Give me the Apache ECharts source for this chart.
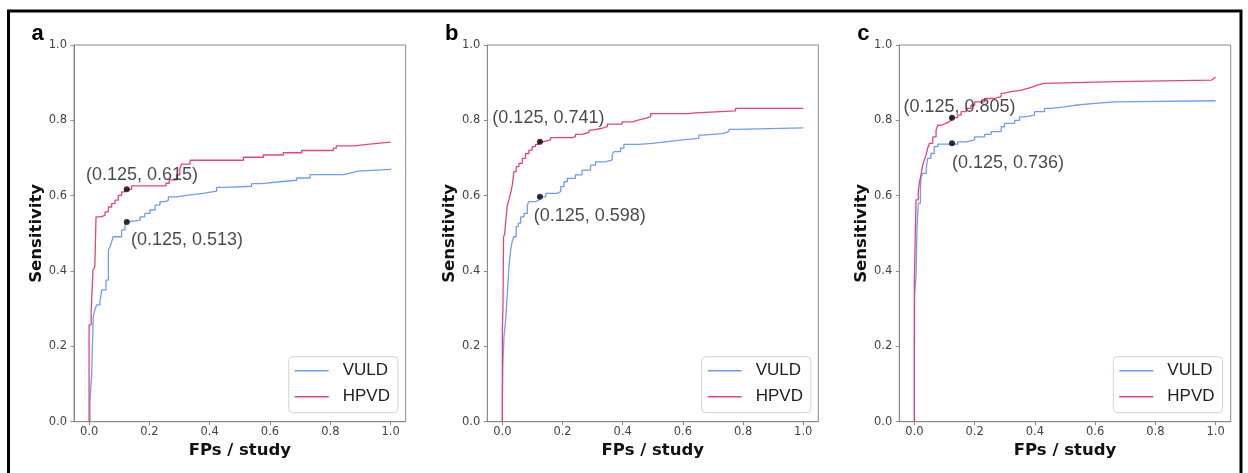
<!DOCTYPE html>
<html><head><meta charset="utf-8">
<script src="https://cdn.jsdelivr.net/npm/echarts@6/dist/echarts.min.js"></script>
<style>html,body{margin:0;padding:0;background:#fff}#c{width:1248px;height:473px}</style>
</head><body><div id="c"></div>
<script>
// ---------- data ----------
const xTicks = [0, 0.2, 0.4, 0.6, 0.8, 1.0];
const yTicks = [0, 0.2, 0.4, 0.6, 0.8, 1.0];
const seriesNames = ['VULD', 'HPVD'];
const panelLetters = ['a', 'b', 'c'];

// panel a
const vuldA = [[0.003,0],[0.003,0.058],[0.0085,0.124],[0.011,0.2],[0.014,0.279],[0.019,0.297],[0.025,0.31],[0.036,0.319],[0.042,0.35],[0.056,0.376],[0.064,0.456],[0.07,0.465],[0.075,0.478],[0.08,0.491],[0.108,0.509],[0.119,0.522],[0.125,0.531],[0.136,0.535],[0.169,0.544],[0.185,0.553],[0.202,0.562],[0.219,0.575],[0.235,0.584],[0.252,0.588],[0.263,0.597],[0.29,0.602],[0.335,0.607],[0.384,0.612],[0.423,0.622],[0.456,0.625],[0.539,0.632],[0.572,0.637],[0.633,0.641],[0.688,0.647],[0.733,0.656],[0.843,0.66],[0.865,0.665],[0.893,0.67],[1.0,0.673]];
const hpvdA = [[0,0],[0,0.257],[0.007,0.292],[0.010,0.35],[0.013,0.403],[0.019,0.41],[0.021,0.474],[0.023,0.544],[0.038,0.548],[0.053,0.557],[0.064,0.57],[0.075,0.579],[0.086,0.588],[0.097,0.601],[0.108,0.61],[0.119,0.617],[0.141,0.626],[0.255,0.633],[0.266,0.642],[0.29,0.655],[0.301,0.672],[0.307,0.684],[0.335,0.694],[0.512,0.702],[0.578,0.708],[0.644,0.714],[0.705,0.72],[0.81,0.726],[0.82,0.732],[0.88,0.737],[0.93,0.742],[1.0,0.742]];
const pointsA = [[0.125,0.617],[0.125,0.53]];
const pointTextA = ['(0.125, 0.615)', '(0.125, 0.513)'];

// panel b
const vuldB = [[0,0],[0,0.058],[0.002,0.156],[0.0054,0.226],[0.011,0.27],[0.0165,0.34],[0.022,0.411],[0.0275,0.456],[0.033,0.48],[0.0386,0.491],[0.046,0.518],[0.053,0.527],[0.061,0.544],[0.072,0.553],[0.083,0.575],[0.088,0.584],[0.11,0.589],[0.122,0.597],[0.144,0.606],[0.183,0.611],[0.194,0.624],[0.205,0.637],[0.216,0.646],[0.243,0.655],[0.265,0.668],[0.293,0.681],[0.31,0.69],[0.343,0.695],[0.365,0.708],[0.371,0.717],[0.393,0.726],[0.404,0.736],[0.454,0.739],[0.498,0.743],[0.542,0.748],[0.598,0.752],[0.653,0.761],[0.664,0.765],[0.731,0.77],[0.753,0.776],[0.775,0.78],[1.0,0.78]];
const hpvdB = [[0,0],[0,0.25],[0.002,0.3],[0.004,0.49],[0.008,0.5],[0.011,0.53],[0.0165,0.575],[0.022,0.59],[0.0275,0.607],[0.033,0.628],[0.0386,0.664],[0.046,0.677],[0.055,0.686],[0.066,0.699],[0.077,0.712],[0.088,0.721],[0.099,0.73],[0.11,0.736],[0.122,0.743],[0.135,0.748],[0.16,0.754],[0.232,0.757],[0.243,0.763],[0.265,0.768],[0.288,0.774],[0.299,0.779],[0.332,0.783],[0.349,0.79],[0.398,0.796],[0.432,0.801],[0.454,0.805],[0.476,0.81],[0.493,0.818],[0.615,0.82],[0.642,0.825],[0.775,0.832],[1.0,0.832]];
const pointsB = [[0.125,0.743],[0.125,0.597]];
const pointTextB = ['(0.125, 0.741)', '(0.125, 0.598)'];

// panel c
const vuldC = [[0,0],[0,0.2],[0.001,0.34],[0.0055,0.385],[0.009,0.52],[0.013,0.58],[0.02,0.615],[0.022,0.65],[0.0277,0.659],[0.039,0.672],[0.044,0.699],[0.055,0.712],[0.066,0.73],[0.078,0.737],[0.144,0.743],[0.172,0.748],[0.2,0.756],[0.233,0.763],[0.255,0.77],[0.288,0.783],[0.299,0.792],[0.333,0.8],[0.349,0.809],[0.366,0.814],[0.399,0.823],[0.432,0.832],[0.455,0.836],[0.499,0.84],[0.532,0.845],[0.599,0.849],[0.665,0.852],[1.0,0.852]];
const hpvdC = [[0,0],[0,0.376],[0.0055,0.589],[0.013,0.611],[0.0166,0.633],[0.022,0.655],[0.0277,0.681],[0.033,0.695],[0.039,0.708],[0.044,0.726],[0.05,0.739],[0.061,0.756],[0.072,0.774],[0.078,0.787],[0.089,0.792],[0.105,0.796],[0.114,0.8],[0.122,0.807],[0.144,0.814],[0.155,0.823],[0.172,0.832],[0.188,0.84],[0.2,0.849],[0.233,0.858],[0.266,0.863],[0.288,0.872],[0.299,0.876],[0.321,0.88],[0.355,0.885],[0.377,0.889],[0.393,0.894],[0.41,0.898],[0.432,0.903],[0.67,0.907],[0.987,0.912],[0.995,0.914],[1.0,0.914]];
const pointsC = [[0.125,0.807],[0.125,0.739]];
const pointTextC = ['(0.125, 0.805)', '(0.125, 0.736)'];

// ---------- layout / style ----------
const BLUE = '#6f9cf8', PINK = '#e7417f';
const panels = [
  {grid:{left:74, top:45, width:331.7, height:376.7}, legendLeft:288.7, letterX:31.5,
   vuld:vuldA, hpvd:hpvdA, pts:pointsA, txt:pointTextA, offs:[[-40.8,-14.3],[4.2,18]]},
  {grid:{left:487.3, top:45, width:331, height:376.7}, legendLeft:701.7, letterX:445,
   vuld:vuldB, hpvd:hpvdB, pts:pointsB, txt:pointTextB, offs:[[-47.6,-23.5],[-6.3,19.2]]},
  {grid:{left:899.3, top:45, width:331.4, height:376.7}, legendLeft:1113.3, letterX:857.3,
   vuld:vuldC, hpvd:hpvdC, pts:pointsC, txt:pointTextC, offs:[[-48.6,-11],[0,20]]}
];
const AX = '#8a8a8a';
const tickFont = {fontFamily:'DejaVu Sans', fontSize:11.5, color:'#444'};
const titleFont = {fontFamily:'DejaVu Sans', fontSize:16.5, fontWeight:'bold', color:'#111'};

const option = {animation:false, backgroundColor:'#fff', grid:[], xAxis:[], yAxis:[], series:[], legend:[], graphic:[]};
panels.forEach((p, i) => {
  option.grid.push(Object.assign({show:true, borderColor:AX, borderWidth:1, backgroundColor:'transparent'}, p.grid));
  option.xAxis.push({type:'value', gridIndex:i, min:-0.05, max:1.05,
    name:'FPs / study', nameLocation:'middle', nameGap:20, nameTextStyle:titleFont,
    axisLine:{show:true, onZero:false, lineStyle:{color:AX, width:1}},
    axisTick:{show:true, length:3.5, lineStyle:{color:AX}, customValues:xTicks},
    axisLabel:Object.assign({margin:4, customValues:xTicks, formatter:v => v.toFixed(1)}, tickFont),
    splitLine:{show:false}});
  option.yAxis.push({type:'value', gridIndex:i, min:0, max:1, interval:0.2,
    name:'Sensitivity', nameLocation:'middle', nameGap:29, nameTextStyle:titleFont,
    axisLine:{show:true, onZero:false, lineStyle:{color:AX, width:1}},
    axisTick:{show:true, length:3.5, lineStyle:{color:AX}},
    axisLabel:Object.assign({margin:7, formatter:v => v.toFixed(1)}, tickFont),
    splitLine:{show:false}});
  option.series.push({name:seriesNames[0], type:'line', step:'end', xAxisIndex:i, yAxisIndex:i,
    data:p.vuld, symbol:'none', color:BLUE, lineStyle:{color:BLUE, width:1.3}, z:2});
  option.series.push({name:seriesNames[1], type:'line', step:'end', xAxisIndex:i, yAxisIndex:i,
    data:p.hpvd, symbol:'none', color:PINK, lineStyle:{color:PINK, width:1.3}, z:3});
  option.series.push({type:'scatter', xAxisIndex:i, yAxisIndex:i, symbolSize:6, z:5,
    itemStyle:{color:'#000'},
    data:p.pts.map((pt, k) => ({value:pt, label:{show:true, position:'inside', align:'left', verticalAlign:'middle',
      offset:p.offs[k], formatter:p.txt[k], color:'#1a1a1a', fontFamily:'Liberation Sans', fontSize:18}}))});
  option.legend.push({left:p.legendLeft, top:356.7, orient:'vertical', icon:'rect', itemWidth:34, itemHeight:1.6, itemGap:6,
    padding:[4,8,6,6], backgroundColor:'#fff', borderColor:'#d4d4d4', borderWidth:1, borderRadius:4,
    selectedMode:false, data:seriesNames,
    textStyle:{fontFamily:'Liberation Sans', fontSize:17, color:'#222', lineHeight:20, padding:[0,0,0,9]}});
  option.graphic.push({type:'text', x:p.letterX, y:34.4, z:10,
    style:{text:panelLetters[i], font:'bold 22px "Liberation Sans", Arial, sans-serif', fill:'#000', verticalAlign:'middle'}});
});
option.graphic.push({type:'rect', z:20, shape:{x:8.5, y:11, width:1232.5, height:520},
  style:{fill:'none', stroke:'#000', lineWidth:3}});

const chart = echarts.init(document.getElementById('c'), null, {renderer:'canvas'});
chart.setOption(option);
</script>
</body></html>
